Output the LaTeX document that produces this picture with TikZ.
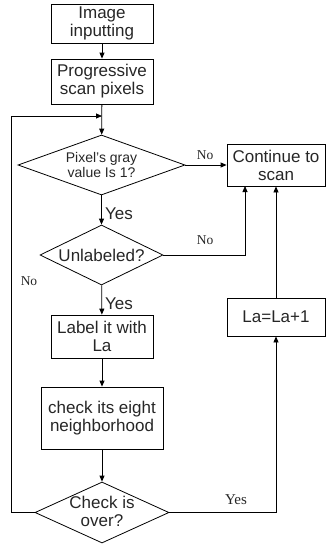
\documentclass[tikz,border=0pt]{standalone}
\usepackage{fontspec}
\setmainfont{Liberation Serif}
\setsansfont{Liberation Sans}
\usetikzlibrary{arrows.meta,shapes.geometric}
\tikzset{
  box/.style={draw, line width=0.8pt, inner sep=0pt, align=center, text=black!85,
    font=\sffamily\fontsize{17}{18}\selectfont},
  dec/.style={draw, line width=0.8pt, diamond, inner sep=0pt},
  dtext/.style={inner sep=0pt, align=center, text=black!85,
    font=\sffamily\fontsize{17}{18}\selectfont},
  lbl/.style={inner sep=0pt, text=black!85, font=\rmfamily\fontsize{13.5}{15}\selectfont},
  flow/.style={line width=0.8pt, -{Triangle[length=6pt,width=5pt]}}
}
\begin{document}
\begin{tikzpicture}[x=1pt,y=-1pt]
\useasboundingbox (0,0) rectangle (326,546);
\node[box, minimum width=102pt, minimum height=39pt] (img) at (102,23.5) {Image\\inputting};
\node[box, minimum width=102pt, minimum height=45pt] (scan) at (102,81.5) {Progressive\\scan pixels};
\node[dec, minimum width=167pt, minimum height=60pt] (gray) at (101.5,165) {};
\node[dtext, font=\sffamily\fontsize{14}{15.5}\selectfont] (grayt) at (gray) {Pixel's gray\\value Is 1?};
\node[dec, minimum width=123pt, minimum height=60pt] (unl) at (101.5,255) {};
\node[dtext] (unlt) at (unl) {Unlabeled?};
\node[box, minimum width=102pt, minimum height=43pt] (lab) at (102,336.5) {Label it with\\La};
\node[box, minimum width=122pt, minimum height=62pt] (chk) at (102,418) {check its eight\\neighborhood};
\node[dec, minimum width=134pt, minimum height=61pt] (over) at (102,512.5) {};
\node[dtext] (overt) at ([yshift=1pt]over) {Check is\\over?};
\node[box, minimum width=98pt, minimum height=42pt] (cont) at (276,165) {Continue to\\scan};
\node[box, minimum width=98pt, minimum height=38pt] (inc) at (276,317) {La=La+1};
\coordinate (merge) at (102,116);
\coordinate (back) at (11,512.5);
\coordinate (nolab) at (245,186);

\draw[flow] (img) -- (scan);
\draw[flow] (scan) -- (gray);
\draw[flow] (gray) -- (cont);
\draw[flow] (gray) -- (unl);
\draw[flow] (unl.east) -| (nolab);
\draw[flow] (unl) -- (lab);
\draw[flow] (lab) -- (chk);
\draw[flow] (chk) -- (over);
\draw[flow] (over.west) -- (back) |- (merge);
\draw[flow] (over.east) -| (inc.south);
\draw[flow] (inc) -- (cont);

\node[lbl] (no1) at (205,155) {No};
\node[lbl] (no2) at (205,240) {No};
\node[lbl] (no3) at (29,281) {No};
\node[lbl, font=\rmfamily\fontsize{15}{16}\selectfont] (yes3) at (236,500) {Yes};
\node[dtext, anchor=west] (yes1) at (105,214) {Yes};
\node[dtext, anchor=west] (yes2) at (105,304) {Yes};
\end{tikzpicture}
\end{document}
